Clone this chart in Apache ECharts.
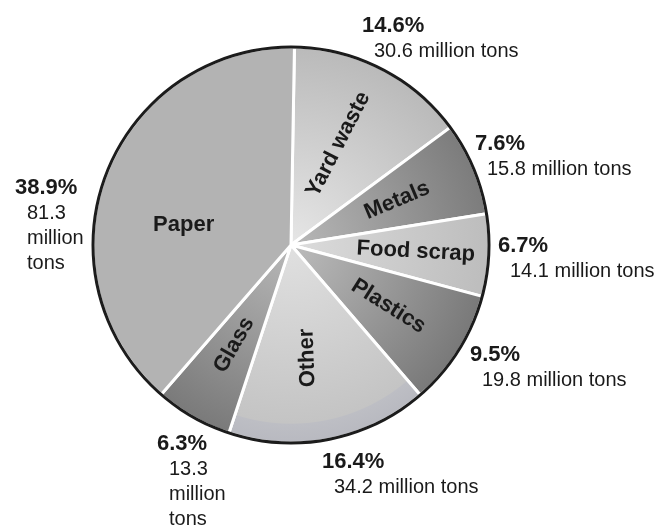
<!DOCTYPE html>
<html><head><meta charset="utf-8">
<script src="https://cdn.jsdelivr.net/npm/echarts@6/dist/echarts.min.js"></script>
<style>html,body{margin:0;padding:0;background:#fff}#chart{width:662px;height:530px}</style>
</head><body><div id="chart"></div>
<script>
// ---- data ----
const categories = ['Yard waste', 'Metals', 'Food scrap', 'Plastics', 'Other', 'Glass', 'Paper'];
const percents = [14.6, 7.6, 6.7, 9.5, 16.4, 6.3, 38.9];
const tons = [30.6, 15.8, 14.1, 19.8, 34.2, 13.3, 81.3];

// ---- layout / style ----
const CX = 291, CY = 245, R = 198;
const FONT = '"Liberation Sans", Arial, Helvetica, sans-serif';
const TEXT = '#1a1a1a';
const stackedLabels = ['Paper', 'Glass'];
const outerLabelPos = {
  'Yard waste': [362, 12], 'Metals': [475, 130], 'Food scrap': [498, 232],
  'Plastics': [470, 341], 'Other': [322, 448], 'Glass': [157, 430], 'Paper': [15, 174]
};
function rg(stops) {
  return new echarts.graphic.RadialGradient(CX, CY, R,
    stops.map(s => ({offset: s[0], color: s[1]})), true);
}
const fills = {
  'Yard waste': rg([[0, '#e6e6e6'], [1, '#bababa']]),
  'Metals': rg([[0, '#b8b8b8'], [1, '#7c7c7c']]),
  'Food scrap': rg([[0, '#dcdcdc'], [1, '#bdbdbd']]),
  'Plastics': rg([[0, '#bcbcbc'], [1, '#797979']]),
  'Other': rg([[0, '#e0e0e0'], [0.9, '#c4c4c4'], [0.905, '#bdbec4'], [1, '#b8b9c0']]),
  'Glass': rg([[0, '#b8b8b8'], [1, '#7a7a7a']]),
  'Paper': '#b3b3b3'
};
const innerRotate = {'Paper': 0, 'Other': 92};
const innerOffset = {'Paper': {dy: 21}, 'Food scrap': {dx: 10}, 'Yard waste': {dx: -4, dy: -4}, 'Other': {dy: -6}};

const chart = echarts.init(document.getElementById('chart'));
chart.setOption({
  backgroundColor: '#fff',
  animation: false,
  textStyle: {fontFamily: FONT},
  series: [
    {
      type: 'pie', center: [CX, CY], radius: R, startAngle: 89, clockwise: true,
      avoidLabelOverlap: false, silent: true,
      itemStyle: {borderColor: '#fff', borderWidth: 3},
      label: {
        show: true, position: 'outside', color: TEXT, fontFamily: FONT,
        formatter: p => {
          const i = p.dataIndex;
          const pct = percents[i].toFixed(1) + '%';
          if (stackedLabels.indexOf(p.name) >= 0) {
            return '{b|' + pct + '}\n{r|' + tons[i].toFixed(1) + '}\n{r|million}\n{r|tons}';
          }
          return '{b|' + pct + '}\n{r|' + tons[i].toFixed(1) + ' million tons}';
        },
        rich: {
          b: {fontSize: 22, fontWeight: 'bold', lineHeight: 27, color: TEXT, fontFamily: FONT},
          r: {fontSize: 20, lineHeight: 25, color: TEXT, fontFamily: FONT, padding: [0, 0, 0, 12]}
        }
      },
      labelLine: {show: false},
      labelLayout: p => {
        const pos = outerLabelPos[categories[p.dataIndex]];
        return {x: pos[0], y: pos[1], align: 'left', verticalAlign: 'top'};
      },
      data: categories.map((c, i) => ({name: c, value: percents[i], itemStyle: {color: fills[c]}}))
    },
    {
      type: 'pie', center: [CX, CY], radius: [R - 1.5, R + 1.5], silent: true,
      label: {show: false}, labelLine: {show: false},
      itemStyle: {borderWidth: 0, color: '#1c1c1c'},
      data: [{name: 'outline', value: 1}]
    },
    {
      type: 'pie', center: [CX, CY], radius: [30, 194], startAngle: 89, clockwise: true,
      avoidLabelOverlap: false, silent: true,
      itemStyle: {color: 'rgba(0,0,0,0)', borderWidth: 0},
      label: {
        show: true, position: 'inside', rotate: 'radial', formatter: '{b}',
        fontSize: 22, fontWeight: 'bold', color: TEXT, fontFamily: FONT, textBorderWidth: 0
      },
      labelLine: {show: false},
      labelLayout: p => innerOffset[categories[p.dataIndex]] || {},
      data: categories.map((c, i) => {
        const d = {name: c, value: percents[i]};
        if (c in innerRotate) d.label = {rotate: innerRotate[c]};
        return d;
      })
    }
  ]
});
</script></body></html>
